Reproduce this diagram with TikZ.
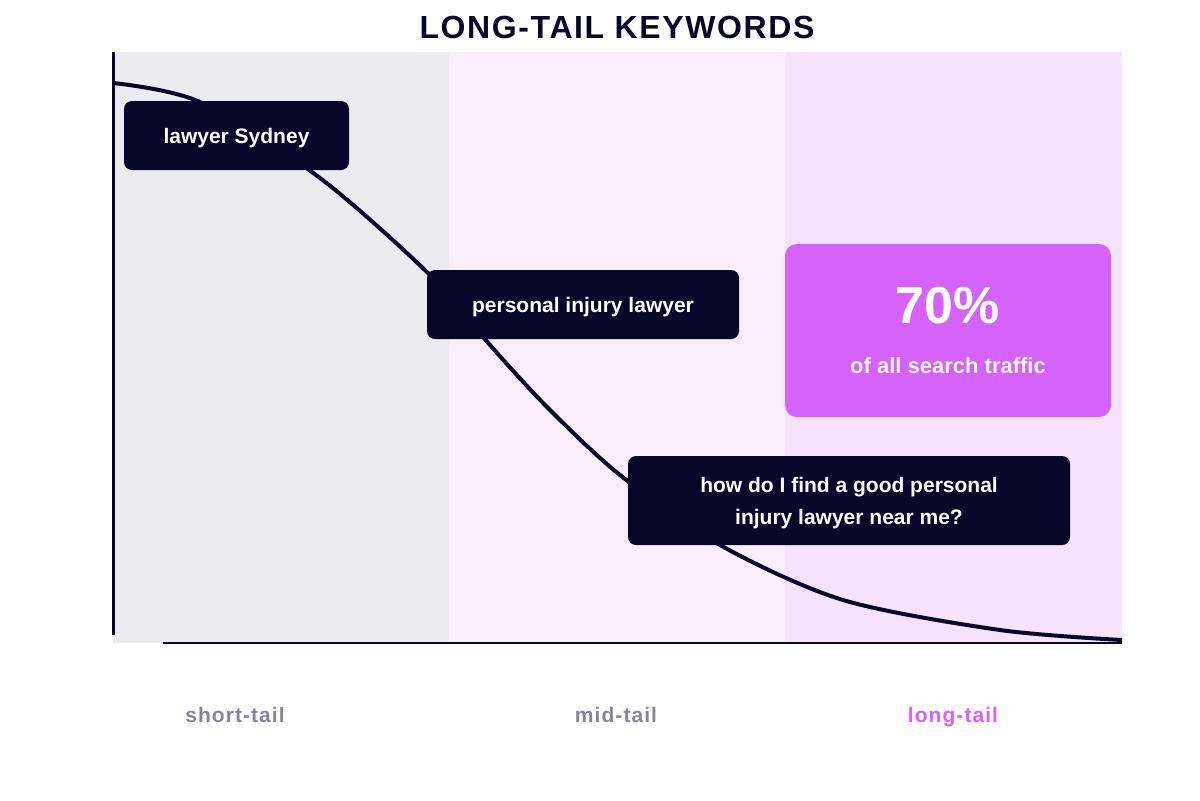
\documentclass[tikz,border=0pt]{standalone}
\usepackage{fontspec}
\setmainfont{Liberation Sans}
\usetikzlibrary{positioning}
\definecolor{inkNavy}{HTML}{07072A}
\definecolor{bandGray}{HTML}{EBECEF}
\definecolor{bandLight}{HTML}{FAEEFC}
\definecolor{bandPink}{HTML}{F6E2FD}
\definecolor{statPurple}{HTML}{D462FB}
\definecolor{tagGray}{HTML}{85859A}
\begin{document}
\begin{tikzpicture}[
    x=0.5pt, y=-0.5pt,
    keybox/.style={
        rectangle,
        fill=inkNavy,
        rounded corners=4pt,
        text=white,
        align=center,
        font=\bfseries\fontsize{10.5}{16}\selectfont,
        inner sep=0pt,
        text depth=0pt
    },
    tailtag/.style={
        anchor=base,
        font=\bfseries\fontsize{10.5}{12}\selectfont\addfontfeature{LetterSpace=5},
        text=tagGray
    }
]
\useasboundingbox (0,0) rectangle (1200,800);

% bands
\fill[bandGray] (113,52) rectangle (449,643);
\fill[bandLight] (449,52) rectangle (785,643);
\fill[bandPink] (785,52) rectangle (1122,643);

% axes
\draw[inkNavy, line width=1.5pt] (113,52) -- (113,635);
\draw[inkNavy, line width=1pt] (163,643) -- (1122,643);

% curve
\draw[inkNavy, line width=2pt] plot[smooth, tension=0.5] coordinates {
    (113,83) (200,102) (320,178) (430,275) (490,345) (548,408)
    (620,475) (720,545) (843,600) (1000,630) (1122,640)};

\node at (617,27) {\bfseries\fontsize{16}{18}\selectfont\addfontfeature{LetterSpace=5}\textcolor{inkNavy}{LONG-TAIL KEYWORDS}};

\node[keybox, minimum width=112.5pt, minimum height=34.5pt] (sydney) at (236.5,135.5) {lawyer Sydney};
\node[keybox, minimum width=156pt, minimum height=34.5pt] (injury) at (583,304.5) {personal injury lawyer};
\node[keybox, minimum width=221pt, minimum height=44.5pt] (howdo) at (849,500.5) {how do I find a good personal\\injury lawyer near me?};

\node[rectangle, fill=statPurple, rounded corners=6pt, minimum width=163pt, minimum height=86.5pt] (stat) at (948,330.5) {};
\node[text=white, font=\bfseries\fontsize{26}{28}\selectfont] (pct) at (948,306) {70\%};
\node[text=white!92!statPurple, font=\bfseries\fontsize{11}{13}\selectfont] (share) at (948,366) {of all search traffic};

\node[tailtag] (short) at (235,722) {short-tail};
\node[tailtag] (mid) at (616,722) {mid-tail};
\node[tailtag, text=statPurple] (long) at (953,722) {long-tail};
\end{tikzpicture}
\end{document}
